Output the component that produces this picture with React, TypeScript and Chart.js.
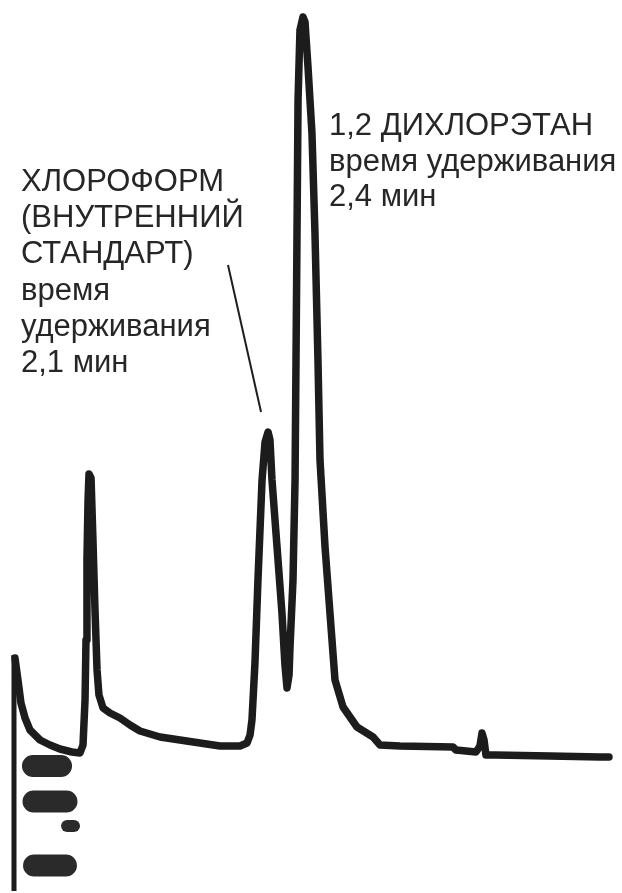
import React, { useEffect, useRef } from "react";
import { Chart, registerables } from "chart.js";

Chart.register(...registerables);

// Retention time, minutes
const traceTime: number[] = [
  0.008, 0.033, 0.058, 0.092, 0.133, 0.217, 0.3, 0.383, 0.483, 0.55,
  0.575, 0.592, 0.6, 0.608, 0.617, 0.625, 0.642, 0.658, 0.675, 0.692,
  0.708, 0.742, 0.8, 0.883, 0.967, 1.05, 1.217, 1.383, 1.55, 1.717,
  1.883, 1.942, 1.967, 1.983, 2.008, 2.033, 2.067, 2.092, 2.117, 2.133,
  2.15, 2.192, 2.233, 2.258, 2.275, 2.292, 2.3, 2.325, 2.342, 2.358,
  2.367, 2.383, 2.408, 2.425, 2.45, 2.483, 2.508, 2.533, 2.55, 2.592,
  2.633, 2.675, 2.742, 2.858, 2.992, 3.05, 3.217, 3.658, 3.683, 3.85,
  3.883, 3.9, 3.917, 3.933, 4.008, 4.467, 4.883, 4.958,
];
// Detector signal, arbitrary units
const traceSignal: number[] = [
  23.5, 21.3, 19.0, 17.5, 16.3, 15.3, 14.8, 14.4, 14.1, 14.0,
  14.8, 19.3, 25.3, 33.3, 39.3, 41.9, 41.5, 35.3, 28.3, 22.3,
  19.8, 18.5, 18.0, 17.5, 16.8, 16.2, 15.6, 15.3, 15.0, 14.7,
  14.7, 15.0, 15.8, 17.3, 23.0, 31.3, 41.3, 45.1, 46.1, 45.3,
  41.3, 34.6, 28.0, 22.8, 20.5, 21.8, 24.6, 31.3, 41.3, 65.3,
  79.3, 86.3, 87.6, 87.1, 82.6, 76.0, 66.0, 53.3, 43.3, 34.6,
  28.0, 21.3, 18.6, 16.6, 15.6, 14.8, 14.7, 14.6, 14.3, 14.1,
  14.7, 16.0, 15.3, 13.8, 13.8, 13.7, 13.6, 13.6,
];

// Recorder start line
const startLineTime: number[] = [0, 0];
const startLineSignal: number[] = [23.8, 0.2];

// Chart-paper marks near the start line
const markTime: (number | null)[] = [0.158, 0.392, null, 0.1625, 0.4375, null, 0.167, 0.433];
const markSignal: (number | null)[] = [12.7, 12.7, null, 9.15, 9.15, null, 2.75, 2.75];
const smallMarkTime: number[] = [0.442, 0.5];
const smallMarkSignal: number[] = [6.7, 6.7];

// Peak annotations
const chloroformPeakTime = 2.117;
const chloroformPeakSignal = 46.1;
const chloroformLabel: string[] = [
  "ХЛОРОФОРМ",
  "(ВНУТРЕННИЙ",
  "СТАНДАРТ)",
  "время",
  "удерживания",
  "2,1 мин",
];
const dichloroethaneLabel: string[] = [
  "1,2 ДИХЛОРЭТАН",
  "время удерживания",
  "2,4 мин",
];

const toPoints = (xs: (number | null)[], ys: (number | null)[]) =>
  xs.map((x, i) => (x === null || ys[i] === null ? { x: NaN, y: NaN } : { x, y: ys[i] as number }));

const annotationPlugin = {
  id: "peakLabels",
  afterDatasetsDraw(chart: any) {
    const ctx = chart.ctx as CanvasRenderingContext2D;
    const xs = chart.scales.x;
    const ys = chart.scales.y;
    ctx.save();
    ctx.fillStyle = "#262626";
    ctx.font = '31px "Liberation Sans", Arial, sans-serif';
    ctx.textBaseline = "alphabetic";
    ctx.textAlign = "left";
    chloroformLabel.forEach((line, i) => {
      ctx.fillText(line, 21, 191 + i * 36.2);
    });
    dichloroethaneLabel.forEach((line, i) => {
      ctx.fillText(line, 329, 135 + i * 35.5);
    });
    // leader line to the chloroform peak
    const px = xs.getPixelForValue(chloroformPeakTime);
    const py = ys.getPixelForValue(chloroformPeakSignal);
    ctx.strokeStyle = "#1e1e1e";
    ctx.lineWidth = 2;
    ctx.beginPath();
    ctx.moveTo(228, 265);
    ctx.lineTo(px - 7, py - 20);
    ctx.stroke();
    ctx.restore();
  },
};

export default function App() {
  const canvasRef = useRef<HTMLCanvasElement | null>(null);

  useEffect(() => {
    const canvas = canvasRef.current;
    if (!canvas) return;
    const chart = new Chart(canvas, {
      type: "line",
      data: {
        datasets: [
          {
            label: "Сигнал",
            data: toPoints(traceTime, traceSignal),
            borderColor: "#1c1c1c",
            borderWidth: 7.5,
            pointRadius: 0,
            tension: 0,
            borderJoinStyle: "round",
            borderCapStyle: "round",
            fill: false,
          },
          {
            label: "Старт",
            data: toPoints(startLineTime, startLineSignal),
            borderColor: "#1c1c1c",
            borderWidth: 5,
            pointRadius: 0,
            fill: false,
          },
          {
            label: "Метки",
            data: toPoints(markTime, markSignal),
            borderColor: "#2a2a2a",
            borderWidth: 22,
            borderCapStyle: "round",
            pointRadius: 0,
            spanGaps: false,
            fill: false,
          },
          {
            label: "Метка",
            data: toPoints(smallMarkTime, smallMarkSignal),
            borderColor: "#2a2a2a",
            borderWidth: 12,
            borderCapStyle: "round",
            pointRadius: 0,
            fill: false,
          },
        ],
      },
      options: {
        animation: false,
        responsive: false,
        devicePixelRatio: 1,
        layout: { padding: 0 },
        plugins: {
          legend: { display: false },
          tooltip: { enabled: false },
        },
        scales: {
          x: { type: "linear", min: -14 / 120, max: 608 / 120, display: false },
          y: { type: "linear", min: 0, max: 89.3, display: false },
        },
      },
      plugins: [annotationPlugin],
    });
    return () => chart.destroy();
  }, []);

  return (
    <div style={{ position: "absolute", left: 0, top: 0, width: 622, height: 893, background: "#fff" }}>
      <canvas ref={canvasRef} width={622} height={893} style={{ display: "block" }} />
    </div>
  );
}
